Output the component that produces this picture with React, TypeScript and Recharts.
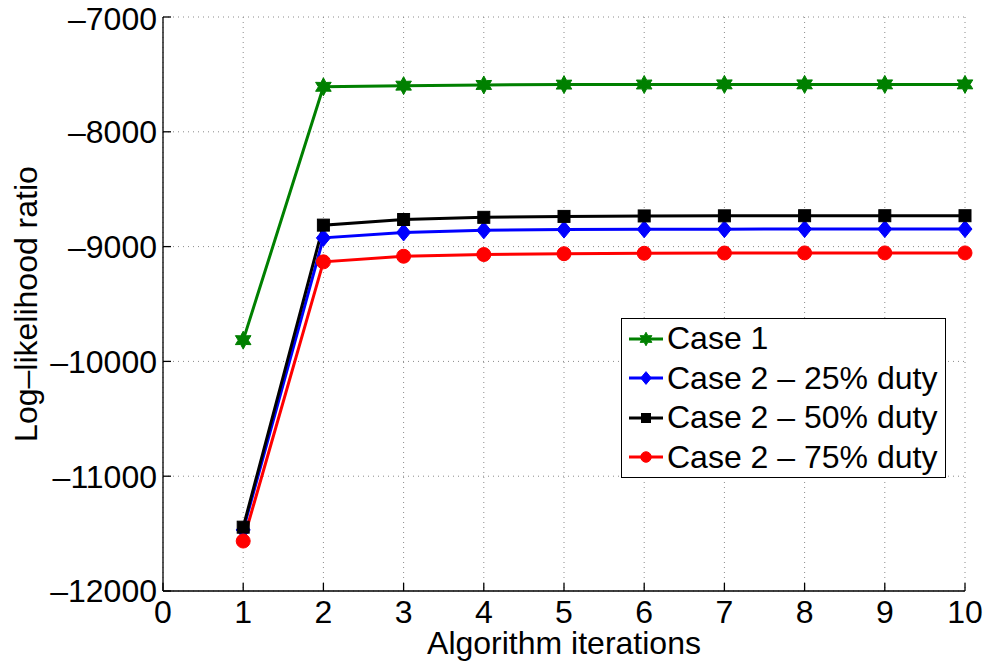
import React from "react";
import {
    LineChart, Line, XAxis, YAxis, CartesianGrid, Legend
} from "recharts";

const iterations = [1, 2, 3, 4, 5, 6, 7, 8, 9, 10];
const case1 = [-9815, -7608, -7598, -7592, -7589, -7588, -7587, -7587, -7587, -7587];
const duty25 = [-11468, -8924, -8877, -8858, -8852, -8849, -8848, -8847, -8847, -8847];
const duty50 = [-11444, -8813, -8764, -8745, -8737, -8733, -8732, -8731, -8731, -8731];
const duty75 = [-11565, -9133, -9084, -9069, -9062, -9058, -9056, -9055, -9055, -9055];

const xTicks = [0, 1, 2, 3, 4, 5, 6, 7, 8, 9, 10];
const yTicks = [-12000, -11000, -10000, -9000, -8000, -7000];

const FONT = "'Liberation Sans', Arial, Helvetica, sans-serif";

const data = iterations.map((it, i) => ({
    it,
    case1: case1[i],
    duty25: duty25[i],
    duty50: duty50[i],
    duty75: duty75[i],
}));

type MarkerKind = "star" | "diamond" | "square" | "circle";

const Marker = ({ kind, cx, cy, color, s = 1 }: { kind: MarkerKind; cx: number; cy: number; color: string; s?: number }) => {
    if (kind === "star") {
        const pts: string[] = [];
        for (let k = 0; k < 12; k++) {
            const r = (k % 2 === 0 ? 9 : 5) * s;
            const a = -Math.PI / 2 + (k * Math.PI) / 6;
            pts.push(`${cx + r * Math.cos(a)},${cy + r * Math.sin(a)}`);
        }
        return <polygon points={pts.join(" ")} fill={color} stroke={color} strokeWidth={1} />;
    }
    if (kind === "diamond") {
        const w = 7 * s, h = 8.5 * s;
        return <polygon points={`${cx},${cy - h} ${cx + w},${cy} ${cx},${cy + h} ${cx - w},${cy}`} fill={color} stroke={color} strokeWidth={1} />;
    }
    if (kind === "square") {
        const d = 6 * s;
        return <rect x={cx - d} y={cy - d} width={2 * d} height={2 * d} fill={color} stroke={color} strokeWidth={1} />;
    }
    return <circle cx={cx} cy={cy} r={7 * s} fill={color} stroke={color} strokeWidth={1} />;
};

const seriesInfo: { key: string; name: string; color: string; marker: MarkerKind }[] = [
    { key: "case1", name: "Case 1", color: "#008000", marker: "star" },
    { key: "duty25", name: "Case 2 – 25% duty", color: "#0000ff", marker: "diamond" },
    { key: "duty50", name: "Case 2 – 50% duty", color: "#000000", marker: "square" },
    { key: "duty75", name: "Case 2 – 75% duty", color: "#ff0000", marker: "circle" },
];

const makeDot = (kind: MarkerKind, color: string) => (p: any) => (
    <Marker key={`${kind}-${p.index}`} kind={kind} cx={p.cx} cy={p.cy} color={color} />
);

const BoxLegend = () => (
    <div style={{
        background: "#fff", border: "1.3px solid #000", fontFamily: FONT, fontSize: 32,
        padding: "0 4px 0 6px", boxSizing: "border-box", width: 325,
    }}>
        {seriesInfo.map((s) => (
            <div key={s.key} style={{ display: "flex", alignItems: "center", height: 39.5, whiteSpace: "nowrap" }}>
                <svg width={36} height={24} style={{ marginRight: 3, flex: "none" }}>
                    <line x1={1} y1={12} x2={35} y2={12} stroke={s.color} strokeWidth={3} />
                    <Marker kind={s.marker} cx={18} cy={12} color={s.color} s={0.75} />
                </svg>
                <span>{s.name}</span>
            </div>
        ))}
    </div>
);

const fmtY = (v: number) => (v < 0 ? `\u2013${Math.abs(v)}` : `${v}`);

export default function App() {
    const tickStyle = { fontSize: 32, fill: "#000", fontFamily: FONT };
    const axisStroke = { stroke: "#000", strokeWidth: 1.3 };
    return (
        <div style={{ position: "absolute", left: 0, top: 0, width: 985, height: 664, background: "#fff" }}>
            <LineChart width={985} height={664} data={data} margin={{ top: 17, right: 20, left: 0, bottom: 0 }}>
                <CartesianGrid xAxisId="b" yAxisId="l" stroke="#8a8a8a" strokeDasharray="1 4" strokeWidth={1} />
                <XAxis
                    xAxisId="b" dataKey="it" type="number" domain={[0, 10]} ticks={xTicks}
                    height={73} tickSize={-8} tickMargin={17} tick={tickStyle}
                    axisLine={axisStroke} tickLine={axisStroke}
                    label={{ value: "Algorithm iterations", position: "insideBottom", offset: 10, style: { fontSize: 32, fill: "#000", fontFamily: FONT } }}
                />
                <XAxis
                    xAxisId="t" dataKey="it" type="number" domain={[0, 10]} ticks={xTicks}
                    orientation="top" height={0} mirror tick={false} tickSize={8}
                    axisLine={axisStroke} tickLine={axisStroke}
                />
                <YAxis
                    yAxisId="l" type="number" domain={[-12000, -7000]} ticks={yTicks}
                    width={163} tickSize={-8} tickMargin={14} tick={tickStyle} tickFormatter={fmtY}
                    axisLine={axisStroke} tickLine={axisStroke}
                    label={{ value: "Log\u2013likelihood ratio", angle: -90, position: "insideLeft", offset: 26, style: { fontSize: 32, fill: "#000", fontFamily: FONT, textAnchor: "middle" } }}
                />
                <YAxis
                    yAxisId="r" type="number" domain={[-12000, -7000]} ticks={yTicks}
                    orientation="right" width={0} mirror tick={false} tickSize={8}
                    axisLine={axisStroke} tickLine={axisStroke}
                />
                {seriesInfo.map((s) => (
                    <Line
                        key={s.key} xAxisId="b" yAxisId="l" dataKey={s.key} name={s.name}
                        type="linear" stroke={s.color} strokeWidth={3}
                        dot={makeDot(s.marker, s.color)} activeDot={false}
                        isAnimationActive={false}
                    />
                ))}
                <Legend
                    layout="vertical" align="center" verticalAlign="middle"
                    content={<BoxLegend />}
                    wrapperStyle={{ left: 621, top: 318, width: "auto", height: "auto" }}
                />
            </LineChart>
        </div>
    );
}
